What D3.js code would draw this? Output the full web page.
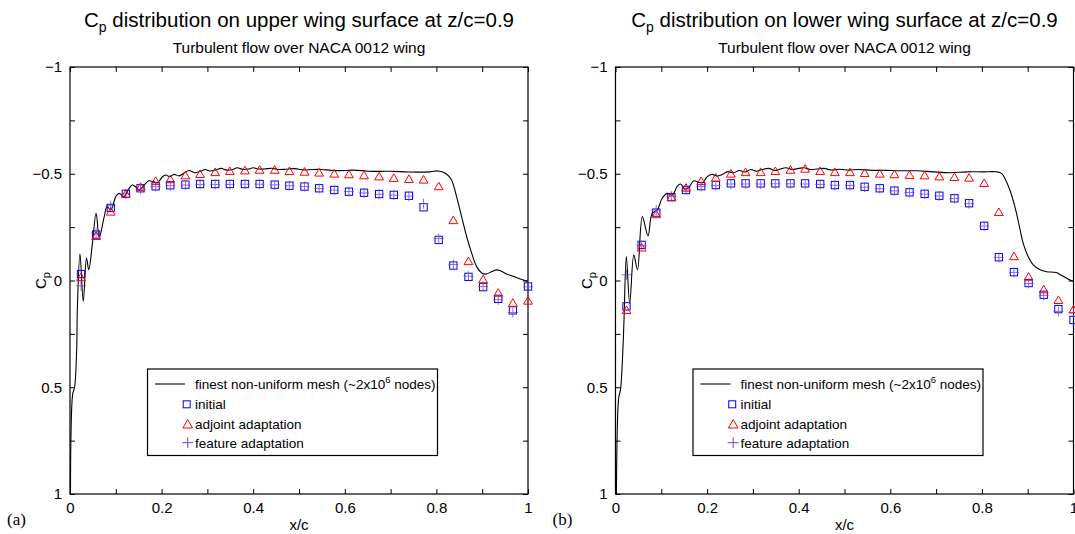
<!DOCTYPE html>
<html>
<head>
<meta charset="utf-8">
<script src="https://cdn.jsdelivr.net/npm/d3@7"></script>
<style>
  body { margin: 0; background: #fff; }
  svg { display: block; font-family: "Liberation Sans", Arial, sans-serif; }
</style>
</head>
<body>
<script>
// x/c stations of the coarse mesh samples (shared by both panels)
const xStations = [0.024, 0.057, 0.089, 0.122, 0.154, 0.187, 0.219, 0.252, 0.284, 0.317,
  0.349, 0.382, 0.414, 0.447, 0.479, 0.512, 0.544, 0.577, 0.609, 0.642,
  0.675, 0.707, 0.74, 0.772, 0.805, 0.837, 0.87, 0.902, 0.935, 0.967, 1.0];

// upper surface (a)
const upperInitial = [-0.03, -0.215, -0.34, -0.406, -0.432, -0.441, -0.446, -0.449, -0.452, -0.452,
  -0.452, -0.452, -0.452, -0.449, -0.444, -0.44, -0.432, -0.424, -0.416, -0.411,
  -0.405, -0.401, -0.397, -0.343, -0.19, -0.07, -0.017, 0.031, 0.086, 0.14, 0.028];
const upperAdjoint = [-0.017, -0.21, -0.324, -0.408, -0.44, -0.468, -0.476, -0.494, -0.5, -0.509,
  -0.514, -0.517, -0.52, -0.52, -0.514, -0.511, -0.507, -0.502, -0.499, -0.494,
  -0.489, -0.482, -0.477, -0.474, -0.443, -0.284, -0.092, -0.007, 0.056, 0.103, 0.093];
const upperFeature = [0.025, -0.222, -0.35, -0.405, -0.428, -0.44, -0.444, -0.447, -0.45, -0.45,
  -0.45, -0.451, -0.451, -0.448, -0.444, -0.44, -0.431, -0.423, -0.417, -0.41,
  -0.404, -0.4, -0.395, -0.36, -0.197, -0.075, -0.02, 0.028, 0.09, 0.15, 0.03];
const upperFine = [[0.001, 1.0], [0.006, 0.53], [0.010, 0.50], [0.0146, 0.324], [0.016, 0.137],
  [0.0218, -0.125], [0.029, 0.098], [0.036, -0.105], [0.041, -0.05], [0.049, -0.175],
  [0.057, -0.315], [0.064, -0.203], [0.074, -0.292], [0.081, -0.346], [0.089, -0.33],
  [0.1, -0.393], [0.107, -0.408], [0.118, -0.393], [0.129, -0.432], [0.136, -0.447],
  [0.143, -0.439], [0.151, -0.424], [0.162, -0.447], [0.172, -0.467], [0.182, -0.463],
  [0.191, -0.458], [0.202, -0.486], [0.209, -0.494], [0.218, -0.486], [0.227, -0.497],
  [0.238, -0.49], [0.25, -0.505], [0.26, -0.515], [0.272, -0.505], [0.285, -0.512],
  [0.295, -0.52], [0.305, -0.513], [0.318, -0.518], [0.33, -0.525], [0.342, -0.517],
  [0.355, -0.52], [0.365, -0.528], [0.378, -0.52], [0.39, -0.522], [0.4, -0.528],
  [0.412, -0.522], [0.425, -0.522], [0.44, -0.526], [0.455, -0.52], [0.47, -0.521],
  [0.49, -0.524], [0.51, -0.518], [0.53, -0.52], [0.55, -0.52], [0.57, -0.516],
  [0.6, -0.515], [0.62, -0.517], [0.65, -0.512], [0.677, -0.511], [0.7, -0.512],
  [0.74, -0.508], [0.786, -0.509], [0.804, -0.513], [0.822, -0.499], [0.833, -0.471],
  [0.844, -0.393], [0.855, -0.299], [0.866, -0.206], [0.877, -0.128], [0.888, -0.065],
  [0.899, -0.035], [0.908, -0.03], [0.921, -0.042], [0.932, -0.05], [0.943, -0.042],
  [0.953, -0.031], [0.968, -0.019], [0.983, -0.007], [1.0, 0.005]];

// lower surface (b)
const lowerInitial = [0.121, -0.167, -0.318, -0.39, -0.424, -0.442, -0.447, -0.455, -0.455, -0.455,
  -0.455, -0.455, -0.455, -0.452, -0.447, -0.447, -0.439, -0.432, -0.421, -0.413,
  -0.406, -0.397, -0.385, -0.362, -0.256, -0.109, -0.039, 0.012, 0.067, 0.134, 0.185];
const lowerAdjoint = [0.137, -0.156, -0.312, -0.393, -0.436, -0.467, -0.483, -0.502, -0.509, -0.509,
  -0.514, -0.52, -0.525, -0.514, -0.509, -0.509, -0.505, -0.502, -0.499, -0.496,
  -0.494, -0.489, -0.486, -0.483, -0.458, -0.322, -0.115, -0.019, 0.04, 0.09, 0.134];
const lowerFeature = [-0.027, -0.163, -0.33, -0.395, -0.424, -0.44, -0.445, -0.452, -0.452, -0.452,
  -0.453, -0.453, -0.452, -0.45, -0.446, -0.445, -0.437, -0.43, -0.42, -0.412,
  -0.405, -0.396, -0.384, -0.36, -0.255, -0.108, -0.038, 0.014, 0.07, 0.145, 0.15];
const lowerFine = [[0.002, 1.0], [0.007, 0.55], [0.011, 0.51], [0.016, 0.33], [0.0186, 0.184],
  [0.0237, -0.112], [0.031, 0.106], [0.040, -0.12], [0.048, -0.05], [0.0586, -0.299],
  [0.071, -0.209], [0.080, -0.315], [0.091, -0.33], [0.102, -0.385], [0.113, -0.408],
  [0.124, -0.4], [0.135, -0.442], [0.142, -0.452], [0.152, -0.427], [0.161, -0.439],
  [0.171, -0.467], [0.181, -0.461], [0.190, -0.458], [0.2, -0.486], [0.211, -0.497],
  [0.222, -0.489], [0.232, -0.495], [0.245, -0.51], [0.258, -0.505], [0.27, -0.515],
  [0.283, -0.508], [0.295, -0.52], [0.308, -0.512], [0.32, -0.52], [0.335, -0.525],
  [0.348, -0.515], [0.36, -0.522], [0.372, -0.528], [0.385, -0.52], [0.4, -0.525],
  [0.412, -0.528], [0.425, -0.52], [0.44, -0.522], [0.455, -0.525], [0.47, -0.518],
  [0.49, -0.521], [0.51, -0.517], [0.53, -0.52], [0.56, -0.516], [0.59, -0.516],
  [0.621, -0.514], [0.658, -0.514], [0.694, -0.509], [0.73, -0.505], [0.767, -0.509],
  [0.803, -0.509], [0.832, -0.509], [0.843, -0.502], [0.85, -0.479], [0.861, -0.424],
  [0.872, -0.346], [0.882, -0.252], [0.89, -0.175], [0.901, -0.112], [0.912, -0.073],
  [0.927, -0.05], [0.941, -0.041], [0.956, -0.039], [0.963, -0.037], [0.971, -0.027],
  [0.985, -0.011], [1.0, 0.005]];

const xTicks = [0, 0.1, 0.2, 0.3, 0.4, 0.5, 0.6, 0.7, 0.8, 0.9, 1];
const xTickLabels = [0, 0.2, 0.4, 0.6, 0.8, 1];
const yTicks = [-1, -0.75, -0.5, -0.25, 0, 0.25, 0.5, 0.75, 1];
const yTickLabels = [-1, -0.5, 0, 0.5, 1];
const legendLabels = ["initial", "adjoint adaptation", "feature adaptation"];

const W = 1075, H = 534;
const blue = "#0000ff", red = "#ff0000", purple = "#7040c0";

const svg = d3.select("body").append("svg")
  .attr("width", W)
  .attr("height", H);

function fmt(d) {
  return d < 0 ? "\u2212" + Math.abs(d) : String(d);
}

function drawPanel(left, surface, tag, fine, initial, adjoint, feature) {
  const plotW = 458, top = 67, bottom = 494;
  const x = d3.scaleLinear().domain([0, 1]).range([left, left + plotW]);
  const y = d3.scaleLinear().domain([-1, 1]).range([top, bottom]);
  const g = svg.append("g");
  const cx = left + plotW / 2;

  // titles
  const t = g.append("text")
    .attr("x", cx).attr("y", 27)
    .attr("text-anchor", "middle")
    .attr("font-size", 20.5);
  t.append("tspan").text("C");
  t.append("tspan").attr("font-size", 14).attr("dy", 5).text("p");
  t.append("tspan").attr("dy", -5).text(" distribution on " + surface + " wing surface at z/c=0.9");

  g.append("text")
    .attr("x", cx).attr("y", 52.5)
    .attr("text-anchor", "middle")
    .attr("font-size", 15.5)
    .text("Turbulent flow over NACA 0012 wing");

  // axes, inward ticks
  const tick = 5;
  const axB = g.append("g").attr("transform", `translate(0,${bottom})`)
    .call(d3.axisBottom(x).tickValues(xTicks).tickSize(-tick).tickPadding(8)
      .tickFormat(d => xTickLabels.includes(d) ? fmt(d) : ""));
  const axT = g.append("g").attr("transform", `translate(0,${top})`)
    .call(d3.axisTop(x).tickValues(xTicks).tickSize(-tick).tickFormat(""));
  const axL = g.append("g").attr("transform", `translate(${left},0)`)
    .call(d3.axisLeft(y).tickValues(yTicks).tickSize(-tick).tickPadding(8)
      .tickFormat(d => yTickLabels.includes(d) ? fmt(d) : ""));
  const axR = g.append("g").attr("transform", `translate(${left + plotW},0)`)
    .call(d3.axisRight(y).tickValues(yTicks).tickSize(-tick).tickFormat(""));
  [axB, axT, axL, axR].forEach(a => {
    a.select(".domain").remove();
    a.selectAll("text").attr("font-size", 15).attr("fill", "#000")
      .attr("font-family", "Liberation Sans, Arial, sans-serif");
    a.selectAll("line").attr("stroke", "#000");
  });

  g.append("rect")
    .attr("x", left).attr("y", top)
    .attr("width", plotW).attr("height", bottom - top)
    .attr("fill", "none").attr("stroke", "#000").attr("stroke-width", 1.2);

  // axis titles
  g.append("text")
    .attr("x", cx).attr("y", 530)
    .attr("text-anchor", "middle").attr("font-size", 15)
    .text("x/c");
  const yl = g.append("text")
    .attr("transform", `translate(${left - 24},${y(0)}) rotate(-90)`)
    .attr("text-anchor", "middle").attr("font-size", 15);
  yl.append("tspan").text("C");
  yl.append("tspan").attr("font-size", 11).attr("dy", 4).text("p");

  g.append("text")
    .attr("x", left - 63).attr("y", 525)
    .attr("font-family", "Liberation Serif, Times New Roman, serif")
    .attr("font-size", 17)
    .text(tag);

  // fine mesh reference curve
  const line = d3.line()
    .x(d => x(d[0])).y(d => y(d[1]))
    .curve(d3.curveCatmullRom.alpha(0.5));
  g.append("path")
    .datum(fine)
    .attr("fill", "none").attr("stroke", "#000").attr("stroke-width", 1.1)
    .attr("d", line);

  const sq = 7.3;
  g.append("g").selectAll("rect")
    .data(initial)
    .join("rect")
    .attr("x", (d, i) => x(xStations[i]) - sq / 2)
    .attr("y", d => y(d) - sq / 2)
    .attr("width", sq).attr("height", sq)
    .attr("fill", "none").attr("stroke", blue).attr("stroke-width", 1);

  g.append("g").selectAll("path")
    .data(feature)
    .join("path")
    .attr("transform", (d, i) => `translate(${x(xStations[i])},${y(d)})`)
    .attr("d", "M-5,0H5M0,-5V5")
    .attr("stroke", purple).attr("stroke-width", 1).attr("opacity", 0.75);

  g.append("g").selectAll("path")
    .data(adjoint)
    .join("path")
    .attr("transform", (d, i) => `translate(${x(xStations[i])},${y(d)})`)
    .attr("d", "M0,-3.8L4.4,3.8L-4.4,3.8Z")
    .attr("fill", "none").attr("stroke", red).attr("stroke-width", 1);

  // legend
  const lx = left + 77.5, ly = 369;
  const lg = g.append("g").attr("transform", `translate(${lx},${ly})`);
  lg.append("rect")
    .attr("width", 290).attr("height", 86.5)
    .attr("fill", "#fff").attr("stroke", "#000").attr("stroke-width", 1.2);
  lg.append("line")
    .attr("x1", 7.5).attr("x2", 37.5).attr("y1", 15).attr("y2", 15)
    .attr("stroke", "#000").attr("stroke-width", 1.1);
  const lt = lg.append("text").attr("x", 47.5).attr("y", 19.8).attr("font-size", 13.5);
  lt.append("tspan").text("finest non-uniform mesh (~2x10");
  lt.append("tspan").attr("font-size", 9.5).attr("dy", -6).text("6");
  lt.append("tspan").attr("dy", 6).text(" nodes)");

  const rowY = [35.3, 55, 73.7];
  lg.append("rect")
    .attr("x", 39.2 - 3.5).attr("y", rowY[0] - 3.5).attr("width", 7).attr("height", 7)
    .attr("fill", "none").attr("stroke", blue);
  lg.append("path")
    .attr("transform", `translate(40.2,${rowY[1]})`)
    .attr("d", "M0,-4.5L4.8,4L-4.8,4Z")
    .attr("fill", "none").attr("stroke", red);
  lg.append("path")
    .attr("transform", `translate(40.2,${rowY[2]})`)
    .attr("d", "M-5.5,0H5.5M0,-5.5V5.5")
    .attr("stroke", purple);
  lg.selectAll("text.lab")
    .data(legendLabels)
    .join("text")
    .attr("class", "lab")
    .attr("x", 47.5).attr("y", (d, i) => rowY[i] + 4.8)
    .attr("font-size", 13.5)
    .text(d => d);
}

drawPanel(70, "upper", "(a)", upperFine, upperInitial, upperAdjoint, upperFeature);
drawPanel(615.5, "lower", "(b)", lowerFine, lowerInitial, lowerAdjoint, lowerFeature);
</script>
</body>
</html>
